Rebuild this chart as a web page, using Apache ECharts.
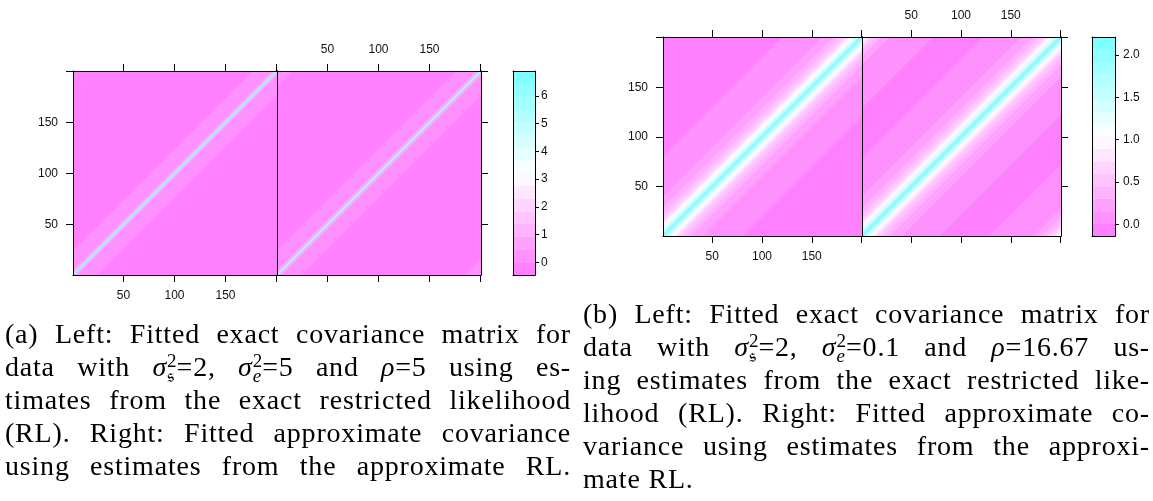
<!DOCTYPE html>
<html>
<head>
<meta charset="utf-8">
<title>Fitted covariance matrices</title>
<script src="https://cdn.jsdelivr.net/npm/echarts@6.0.0/dist/echarts.min.js"></script>
<style>
  html, body { margin: 0; padding: 0; background: #fff; }
  #main { position: absolute; left: 0; top: 0; width: 1153px; height: 501px; }
  .cap { position: absolute; font-family: "Liberation Serif", "DejaVu Serif", serif; font-size: 28px; letter-spacing: 0.8px; color: #000; }
  .cap .ln { height: 33px; line-height: 33px; text-align: justify; text-align-last: justify; white-space: nowrap; }
  .cap .ln.last { text-align-last: left; }
  .ss { display: inline-block; font-size: 0.68em; line-height: 0.8em; vertical-align: -0.32em; text-align: left; text-align-last: left; letter-spacing: 0; }
  .ss span { display: block; }
</style>
</head>
<body>
<div id="main"></div>

<div class="cap" style="left:5px; top:317px; width:566px;">
  <div class="ln">(a) Left: Fitted exact covariance matrix for</div>
  <div class="ln">data with <i>σ</i><span class="ss"><span>2</span><span>𝔰</span></span>=2, <i>σ</i><span class="ss"><span>2</span><span><i>e</i></span></span>=5 and <i>ρ</i>=5 using es-</div>
  <div class="ln">timates from the exact restricted likelihood</div>
  <div class="ln">(RL). Right: Fitted approximate covariance</div>
  <div class="ln">using estimates from the approximate RL.</div>
</div>

<div class="cap" style="left:583px; top:297px; width:567px;">
  <div class="ln">(b) Left: Fitted exact covariance matrix for</div>
  <div class="ln">data with <i>σ</i><span class="ss"><span>2</span><span>𝔰</span></span>=2, <i>σ</i><span class="ss"><span>2</span><span><i>e</i></span></span>=0.1 and <i>ρ</i>=16.67 us-</div>
  <div class="ln">ing estimates from the exact restricted like-</div>
  <div class="ln">lihood (RL). Right: Fitted approximate co-</div>
  <div class="ln">variance using estimates from the approxi-</div>
  <div class="ln last">mate RL.</div>
</div>

<script>
// covariance read off each panel by lag |i - j|:
// each value holds from its lag up to the next listed lag
const lagsExactA  = [0, 1, 2, 5, 24];
const covExactA   = [6.5, 1.6, 0.6, 0.2, -0.1];
const lagsApproxA = [0, 1, 2, 5, 24, 184];
const covApproxA  = [6.4, 1.6, 0.6, 0.2, -0.1, 0.2];

const lagsExactB  = [0, 1, 3, 5, 6, 8, 10, 12, 14, 17, 22, 28, 40, 80];
const covExactB   = [2.12, 1.85, 1.6, 1.4, 1.25, 1.12, 0.97, 0.82, 0.67, 0.53, 0.38, 0.23, 0.08, -0.06];
const lagsApproxB = [0, 1, 3, 5, 6, 8, 10, 12, 14, 17, 22, 28, 40, 78, 128, 172, 180, 186, 190, 193, 195, 198];
const covApproxB  = [2.12, 1.85, 1.6, 1.4, 1.25, 1.12, 0.97, 0.82, 0.67, 0.53, 0.38, 0.23, 0.08, -0.06, 0.08, 0.23, 0.38, 0.53, 0.67, 0.82, 0.97, 1.12];

// colour keys
const keyRangeA = [-0.46, 6.9];
const keyTicksA = [0, 1, 2, 3, 4, 5, 6];
const keyRangeB = [-0.135, 2.21];
const keyTicksB = [0, 0.5, 1, 1.5, 2];
const nLevels = 16;

// matrix axes
const nObs = 200;
const matTicks = [50, 100, 150, 200];
const matLabels = [50, 100, 150];

const regionCols = ['#FF80FF', '#FFFFFF', '#80FFFF'];
const matRange = [0.5, nObs + 0.5];

function bands(lags, cov) {
  const out = [];
  // outer lags first so the diagonal ends up on top
  for (let k = lags.length - 1; k >= 0; k--) {
    const lo = lags[k] - 0.5;
    const hi = k + 1 < lags.length ? lags[k + 1] - 0.5 : nObs + 0.5;
    if (lags[k] === 0) {
      out.push([-hi, hi, cov[k]]);
    } else {
      out.push([lo, hi, cov[k]]);
      out.push([-hi, -lo, cov[k]]);
    }
  }
  return out;
}

function keyPieces(range) {
  const step = (range[1] - range[0]) / nLevels;
  const out = [];
  for (let i = 0; i < nLevels; i++) {
    const lo = range[0] + i * step;
    out.push([lo, lo + step, lo + step / 2]);
  }
  return out;
}

function renderBand(params, api) {
  const lo = api.value(0), hi = api.value(1);
  const pts = [[-400, -400 + lo], [600, 600 + lo], [600, 600 + hi], [-400, -400 + hi]]
    .map(p => api.coord(p));
  const c = api.visual('color');
  return {
    type: 'polygon',
    shape: { points: pts },
    style: { fill: c, stroke: c, lineWidth: 1 }
  };
}

function renderKey(params, api) {
  const p0 = api.coord([0, api.value(0)]);
  const p1 = api.coord([1, api.value(1)]);
  const c = api.visual('color');
  return {
    type: 'rect',
    shape: { x: p0[0], y: p1[1], width: p1[0] - p0[0], height: p0[1] - p1[1] },
    style: { fill: c, stroke: c, lineWidth: 0.5 }
  };
}

function axis(grid, position, range, ticks, labels, o) {
  o = o || {};
  const a = {
    type: 'value',
    gridIndex: grid,
    position: position,
    min: range[0],
    max: range[1],
    z: 10,
    axisLine: { show: true, onZero: false, lineStyle: { color: '#000', width: 1 } },
    axisTick: { show: !!ticks, length: o.tickLen || 7, lineStyle: { color: '#000' } },
    axisLabel: {
      show: !!labels,
      margin: o.margin || 15,
      color: '#111',
      fontSize: 12,
      fontFamily: 'Liberation Sans, Arial, sans-serif'
    },
    splitLine: { show: false }
  };
  if (ticks) a.axisTick.customValues = ticks;
  if (labels) a.axisLabel.customValues = labels;
  if (o.fmt) a.axisLabel.formatter = o.fmt;
  return a;
}

const unit = [0, 1];
const fmt1 = v => v.toFixed(1);

const chart = echarts.init(document.getElementById('main'), null, { renderer: 'canvas' });

chart.setOption({
  animation: false,
  backgroundColor: '#fff',
  grid: [
    { left: 73, top: 71, width: 204, height: 204, show: true, backgroundColor: '#FF80FF', borderWidth: 0 },
    { left: 277, top: 71, width: 204, height: 204, show: true, backgroundColor: '#FF80FF', borderWidth: 0 },
    { left: 513, top: 71, width: 22, height: 204 },
    { left: 663, top: 37, width: 199, height: 199, show: true, backgroundColor: '#FF80FF', borderWidth: 0 },
    { left: 862, top: 37, width: 199, height: 199, show: true, backgroundColor: '#FF80FF', borderWidth: 0 },
    { left: 1092, top: 37, width: 23, height: 199 }
  ],
  xAxis: [
    axis(0, 'bottom', matRange, matTicks, matLabels),
    axis(0, 'top', matRange, matTicks, null),
    axis(1, 'bottom', matRange, matTicks, null),
    axis(1, 'top', matRange, matTicks, matLabels),
    axis(2, 'bottom', unit, null, null),
    axis(2, 'top', unit, null, null),
    axis(3, 'bottom', matRange, matTicks, matLabels),
    axis(3, 'top', matRange, matTicks, null),
    axis(4, 'bottom', matRange, matTicks, null),
    axis(4, 'top', matRange, matTicks, matLabels),
    axis(5, 'bottom', unit, null, null),
    axis(5, 'top', unit, null, null)
  ],
  yAxis: [
    axis(0, 'left', matRange, matTicks, matLabels),
    axis(0, 'right', matRange, null, null),
    axis(1, 'left', matRange, null, null),
    axis(1, 'right', matRange, matTicks, null),
    axis(2, 'left', keyRangeA, null, null),
    axis(2, 'right', keyRangeA, keyTicksA, keyTicksA, { tickLen: 4, margin: 6 }),
    axis(3, 'left', matRange, matTicks, matLabels),
    axis(3, 'right', matRange, null, null),
    axis(4, 'left', matRange, null, null),
    axis(4, 'right', matRange, matTicks, null),
    axis(5, 'left', keyRangeB, null, null),
    axis(5, 'right', keyRangeB, keyTicksB, keyTicksB, { tickLen: 4, margin: 8, fmt: fmt1 })
  ],
  visualMap: [
    {
      type: 'piecewise', show: false, dimension: 2, seriesIndex: [0, 1, 2],
      min: keyRangeA[0], max: keyRangeA[1], splitNumber: nLevels,
      inRange: { color: regionCols }
    },
    {
      type: 'piecewise', show: false, dimension: 2, seriesIndex: [3, 4, 5],
      min: keyRangeB[0], max: keyRangeB[1], splitNumber: nLevels,
      inRange: { color: regionCols }
    }
  ],
  series: [
    { name: 'exact (a)', type: 'custom', coordinateSystem: 'cartesian2d', xAxisIndex: 0, yAxisIndex: 0,
      clip: true, silent: true, data: bands(lagsExactA, covExactA), renderItem: renderBand },
    { name: 'approx (a)', type: 'custom', coordinateSystem: 'cartesian2d', xAxisIndex: 2, yAxisIndex: 2,
      clip: true, silent: true, data: bands(lagsApproxA, covApproxA), renderItem: renderBand },
    { name: 'key (a)', type: 'custom', coordinateSystem: 'cartesian2d', xAxisIndex: 4, yAxisIndex: 4,
      clip: true, silent: true, data: keyPieces(keyRangeA), renderItem: renderKey },
    { name: 'exact (b)', type: 'custom', coordinateSystem: 'cartesian2d', xAxisIndex: 6, yAxisIndex: 6,
      clip: true, silent: true, data: bands(lagsExactB, covExactB), renderItem: renderBand },
    { name: 'approx (b)', type: 'custom', coordinateSystem: 'cartesian2d', xAxisIndex: 8, yAxisIndex: 8,
      clip: true, silent: true, data: bands(lagsApproxB, covApproxB), renderItem: renderBand },
    { name: 'key (b)', type: 'custom', coordinateSystem: 'cartesian2d', xAxisIndex: 10, yAxisIndex: 10,
      clip: true, silent: true, data: keyPieces(keyRangeB), renderItem: renderKey }
  ]
});
</script>
</body>
</html>
